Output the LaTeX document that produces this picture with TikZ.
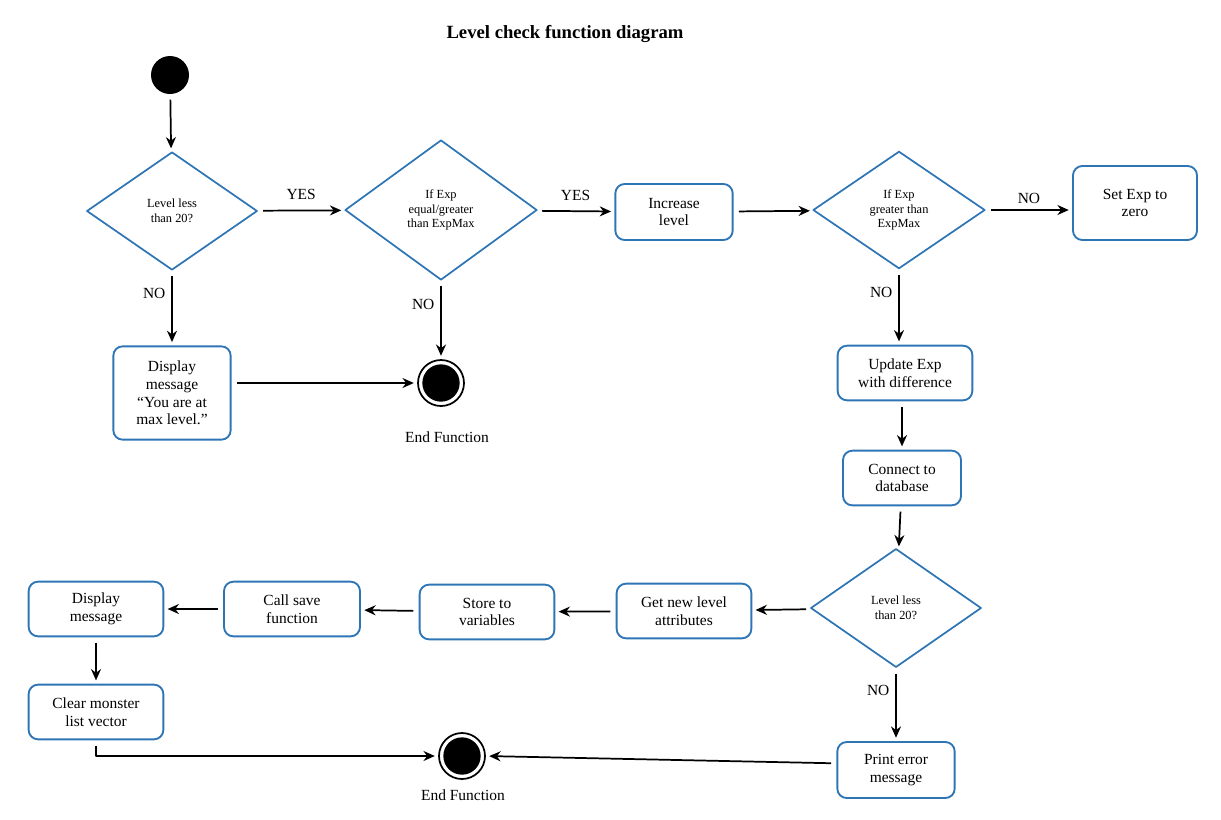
\documentclass[tikz,border=0pt]{standalone}
\usepackage{fontspec}
\setmainfont{Liberation Serif}
\usetikzlibrary{shapes.geometric, arrows.meta}
\definecolor{boxblue}{HTML}{2E75B6}
\newcommand{\boxfont}{\fontsize{11.6}{13.2}\selectfont}
\newcommand{\decfont}{\fontsize{9.3}{11}\selectfont}
\tikzset{
  every picture/.style = {line join=round},
  actbox/.style   = {draw=boxblue, line width=1.4pt, rounded corners=7pt, align=center,
                     font=\boxfont, inner sep=2pt},
  decision/.style = {diamond, draw=boxblue, line width=1.3pt, align=center,
                     font=\decfont, inner sep=0pt},
  flow/.style     = {line width=1.3pt, -{Stealth[length=8.5pt, width=7.5pt]},
                     shorten <=4pt, shorten >=2.5pt},
  startdot/.style = {circle, fill=black, minimum size=28.5pt, inner sep=0pt},
  enddot/.style   = {circle, draw=black, line width=1.3pt, minimum size=34.5pt, inner sep=0pt,
                     path picture={\fill[black] (path picture bounding box.center) circle (14pt);}},
  guard/.style    = {font=\boxfont},
}

\begin{document}
\begin{tikzpicture}[x=0.75pt, y=-0.75pt]
  \useasboundingbox (0,0) rectangle (1221,819);

  \node[font=\fontsize{14}{16}\selectfont\bfseries] (title) at (565,34) {Level check function diagram};

  % top row
  \node[startdot] (start) at (170,75) {};
  \node[decision, minimum width=128pt, minimum height=88.5pt] (lvl) at (172,211) {Level less\\than 20?};
  \node[decision, minimum width=144pt, minimum height=105pt] (expmax) at (441,210) {If Exp\\equal/greater\\than ExpMax};
  \node[actbox, minimum width=88pt, minimum height=42pt] (inc) at (674,212) {Increase\\level};
  \node[decision, minimum width=129pt, minimum height=88pt] (expgt) at (899,210) {If Exp\\greater than\\ExpMax};
  \node[actbox, minimum width=93pt, minimum height=55.5pt] (zero) at (1135,203) {Set Exp to\\zero};

  % left branch, the early exits
  \node[actbox, minimum width=88pt, minimum height=70pt] (maxmsg) at (172,393) {Display\\message\\``You are at\\max level.''};
  \node[enddot] (endA) at (441,383) {};
  \node[font=\boxfont] (endAlab) at (447,437) {End Function};

  % right column
  \node[actbox, minimum width=101pt, minimum height=41pt] (upd) at (905,373) {Update Exp\\with difference};
  \node[actbox, minimum width=88.5pt, minimum height=41pt] (db) at (902,478) {Connect to\\database};
  \node[decision, minimum width=128pt, minimum height=89pt] (lvlB) at (896,608) {Level less\\than 20?};
  \node[actbox, minimum width=88pt, minimum height=42pt] (err) at (896,770) {Print error\\message};

  % bottom row, right to left
  \node[actbox, minimum width=101pt, minimum height=41pt] (attr) at (684,611) {Get new level\\attributes};
  \node[actbox, minimum width=101pt, minimum height=41pt] (store) at (487,612) {Store to\\variables};
  \node[actbox, minimum width=102pt, minimum height=41pt] (save) at (292,609) {Call save\\function};
  \node[actbox, minimum width=101pt, minimum height=41pt] (disp) at (96,609) {Display\\message};
  \node[actbox, minimum width=101pt, minimum height=41pt] (clear) at (96,712) {Clear monster\\list vector};
  \node[enddot] (endB) at (462,756) {};
  \node[font=\boxfont] (endBlab) at (463,795) {End Function};

  % connectors
  \draw[flow] (start) -- (lvl);
  \draw[flow] (lvl) -- node[guard, above=4pt] {YES} (expmax);
  \draw[flow] (expmax) -- node[guard, above=4pt] {YES} (inc);
  \draw[flow] (inc) -- (expgt);
  \draw[flow] (expgt.east) -- node[guard, above=1pt] {NO} (expgt.east -| zero.west);
  \draw[flow] (lvl) -- node[guard, pos=0.3, left=1pt] {NO} (maxmsg);
  \draw[flow] (maxmsg.east |- endA.west) -- (endA.west);
  \draw[flow] (expmax) -- node[guard, pos=0.3, left=1pt] {NO} (endA);
  \draw[flow] (expgt.south) -- node[guard, pos=0.3, left=1pt] {NO} (expgt.south |- upd.north);
  \draw[flow] (upd.south -| db.north) -- (db.north);
  \draw[flow] (db) -- (lvlB);
  \draw[flow] (lvlB) -- (attr);
  \draw[flow] (attr) -- (store);
  \draw[flow] (store) -- (save);
  \draw[flow] (save) -- (disp);
  \draw[flow] (disp) -- (clear);
  \draw[flow] (clear.south) |- (endB.west);
  \draw[flow] (lvlB) -- node[guard, pos=0.3, left=1pt] {NO} (err);
  \draw[flow] ([yshift=5pt]err.west) -- (endB.east);
\end{tikzpicture}
\end{document}
